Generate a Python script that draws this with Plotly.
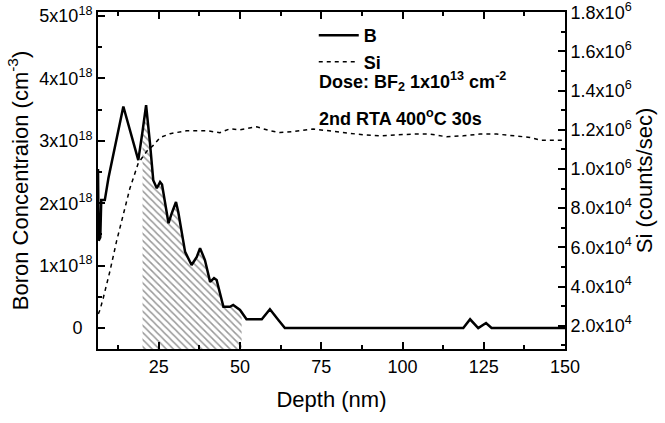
import plotly.graph_objects as go
import numpy as np

# ---- data ----
depth_b = [6.3, 6.5, 7.0, 7.3, 8.4, 9.5, 14.1, 18.7, 20.0, 21.1, 22.3, 23.3, 24.4, 25.4, 26.0,
           28.0, 29.0, 30.3, 31.0, 33.1, 35.1, 36.7, 37.7, 39.2, 40.8, 42.0, 42.8, 44.9, 46.9,
           47.9, 50.0, 50.5, 52.0, 56.7, 59.2, 61.8, 63.8, 118.7, 120.8, 123.3, 125.7, 127.4, 150.0]
boron = [2.55e18, 1.40e18, 1.45e18, 2.05e18, 2.05e18, 2.40e18, 3.55e18, 2.69e18, 3.15e18, 3.57e18,
         2.96e18, 2.37e18, 2.24e18, 2.34e18, 2.30e18, 1.68e18, 1.84e18, 2.02e18, 1.86e18, 1.22e18,
         1.01e18, 1.14e18, 1.28e18, 1.09e18, 0.74e18, 0.80e18, 0.77e18, 0.34e18, 0.34e18, 0.37e18,
         0.29e18, 0.25e18, 0.14e18, 0.14e18, 0.30e18, 0.13e18, 0.0, 0.0, 0.14e18, 0.0, 0.08e18, 0.0, 0.0]

depth_si = [6.4, 6.9, 7.9, 10.0, 12.0, 14.1, 16.1, 18.7, 21.3, 23.3, 25.4, 28.5, 33.6, 39.8, 43.8,
            46.9, 50.0, 55.1, 59.2, 62.3, 66.4, 72.5, 77.7, 82.8, 87.9, 93.1, 98.2, 103.3, 108.5,
            113.6, 118.7, 123.8, 129.0, 134.1, 139.2, 142.3, 146.4, 150.0]
si = [0.26e6, 0.28e6, 0.34e6, 0.48e6, 0.63e6, 0.77e6, 0.90e6, 1.03e6, 1.09e6, 1.12e6, 1.16e6,
      1.18e6, 1.195e6, 1.195e6, 1.185e6, 1.205e6, 1.20e6, 1.215e6, 1.195e6, 1.186e6, 1.191e6,
      1.204e6, 1.195e6, 1.186e6, 1.174e6, 1.169e6, 1.173e6, 1.178e6, 1.178e6, 1.164e6, 1.169e6,
      1.178e6, 1.178e6, 1.169e6, 1.161e6, 1.147e6, 1.147e6, 1.147e6]

x_ticks = [25, 50, 75, 100, 125, 150]
b_tickvals = [0, 1e18, 2e18, 3e18, 4e18, 5e18]
b_ticktext = ["0&nbsp;&nbsp;", "1x10<sup>18</sup>", "2x10<sup>18</sup>", "3x10<sup>18</sup>",
              "4x10<sup>18</sup>", "5x10<sup>18</sup>"]
si_tickvals = [0.2e6, 0.4e6, 0.6e6, 0.8e6, 1.0e6, 1.2e6, 1.4e6, 1.6e6, 1.8e6]
si_ticktext = ["2.0x10<sup>4</sup>", "4.0x10<sup>4</sup>", "6.0x10<sup>4</sup>", "8.0x10<sup>4</sup>",
               "1.0x10<sup>6</sup>", "1.2x10<sup>6</sup>", "1.4x10<sup>6</sup>", "1.6x10<sup>6</sup>",
               "1.8x10<sup>6</sup>"]

hatch_from, hatch_to = 20.0, 50.5

# ---- figure ----
FONT = "Liberation Sans, Arial, sans-serif"
x_range = [6.3, 150]
y_range = [-0.336e18, 5.064e18]
y2_range = [0.081e6, 1.801e6]

db = np.array(depth_b)
bb = np.array(boron)
mask = (db >= hatch_from) & (db <= hatch_to)

fig = go.Figure()

# hatched region under the B profile (down to the bottom of the plot)
fig.add_trace(go.Scatter(x=[hatch_from, hatch_to], y=[y_range[0], y_range[0]], mode="lines",
                         line=dict(width=0, color="rgba(0,0,0,0)"), showlegend=False, hoverinfo="skip"))
fig.add_trace(go.Scatter(x=db[mask], y=bb[mask], mode="lines", line=dict(width=0, color="rgba(0,0,0,0)"),
                         fill="tonexty", fillcolor="rgba(0,0,0,0)",
                         fillpattern=dict(shape="\\", fgcolor="#333", bgcolor="rgba(255,255,255,0)",
                                          size=5, solidity=0.3),
                         showlegend=False, hoverinfo="skip"))

fig.add_trace(go.Scatter(x=depth_b, y=boron, mode="lines", name="B", legendgroup="b",
                         line=dict(color="black", width=2.5)))
fig.add_trace(go.Scatter(x=depth_si, y=si, mode="lines", name="Si", yaxis="y2", legendgroup="si",
                         line=dict(color="black", width=1.5, dash="4px,4px")))

axis_common = dict(showline=True, linewidth=2, linecolor="black", showgrid=False, zeroline=False,
                   ticks="inside", tickwidth=2, tickcolor="black", ticklen=7, automargin=False,
                   ticklabeloverflow="allow",
                   tickfont=dict(family=FONT, size=18, color="black"))

fig.update_layout(
    width=665, height=423,
    margin=dict(l=98, r=100, t=12, b=74),
    paper_bgcolor="white", plot_bgcolor="white",
    font=dict(family=FONT, color="black"),
    xaxis=dict(range=x_range, tickmode="array", tickvals=x_ticks, mirror="ticks",
               minor=dict(tickmode="linear", tick0=12.5, dtick=25, ticks="inside", ticklen=4,
                          tickwidth=2, tickcolor="black"),
               title=dict(text="Depth (nm)", font=dict(family=FONT, size=22), standoff=16),
               **axis_common),
    yaxis=dict(range=y_range, tickmode="array", tickvals=b_tickvals, ticktext=b_ticktext,
               minor=dict(tickmode="linear", tick0=0.5e18, dtick=1e18, ticks="inside", ticklen=4,
                          tickwidth=2, tickcolor="black"),
               title=dict(text="Boron Concentraion (cm<sup>-3</sup>)", font=dict(family=FONT, size=22),
                          standoff=5),
               **axis_common),
    yaxis2=dict(range=y2_range, overlaying="y", side="right", tickmode="array",
                tickvals=si_tickvals, ticktext=si_ticktext,
                minor=dict(tickmode="linear", tick0=0.1e6, dtick=0.2e6, ticks="inside", ticklen=4,
                           tickwidth=2, tickcolor="black"),
                title=dict(text="Si (counts/sec)", font=dict(family=FONT, size=22), standoff=4),
                **axis_common),
    legend=dict(x=0.462, y=0.985, xanchor="left", yanchor="top", bgcolor="rgba(0,0,0,0)",
                font=dict(family=FONT, size=18, color="black", weight="bold"),
                traceorder="normal", tracegroupgap=0, itemwidth=40),
    showlegend=True,
)

fig.add_annotation(xref="paper", yref="paper", x=0.469, y=0.795, xanchor="left", yanchor="middle",
                   text="<b>Dose: BF<sub>2</sub> 1x10<sup>13</sup> cm<sup>-2</sup></b>", showarrow=False,
                   font=dict(family=FONT, size=18, color="black"))
fig.add_annotation(xref="paper", yref="paper", x=0.469, y=0.688, xanchor="left", yanchor="middle",
                   text="<b>2nd RTA 400<sup>o</sup>C 30s</b>", showarrow=False,
                   font=dict(family=FONT, size=18, color="black"))

fig.write_html("out.html", config={"displayModeBar": False},
               post_script="document.body.style.margin='0';")
